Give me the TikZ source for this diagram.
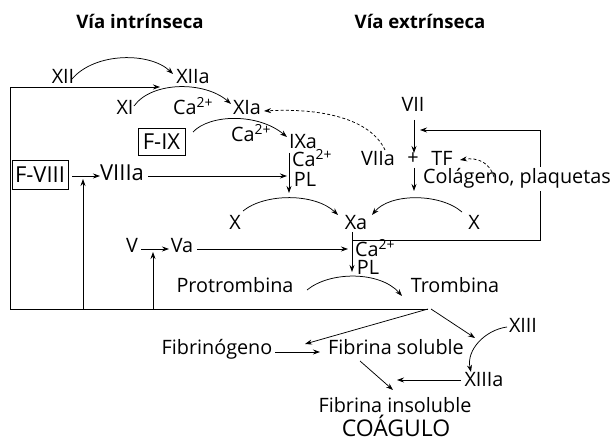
\documentclass[tikz,border=0pt]{standalone}
\usepackage{fontspec}
\setmainfont{Open Sans}
\usetikzlibrary{arrows.meta}
\newcommand\nfnt{\fontsize{19.8}{22}\selectfont}
\newcommand\bfnt{\fontsize{22}{25}\selectfont}
\newcommand\cfnt{\fontsize{23}{26}\selectfont}
\newcommand\tfnt{\fontsize{18.6}{21}\selectfont\bfseries}
\newcommand\supr[1]{\textsuperscript{#1}}
\begin{document}
\begin{tikzpicture}[x=1pt,y=-1pt,
  lbl/.style={inner sep=0pt, font=\nfnt, anchor=base},
  big/.style={inner sep=0pt, font=\bfnt, anchor=base},
  ttl/.style={inner sep=0pt, font=\tfnt, anchor=base},
  fbox/.style={draw, line width=0.8pt, inner sep=0pt, font=\bfnt, anchor=center},
  ln/.style={line width=0.75pt},
  arr/.style={ln, -{Stealth[length=7pt,width=5pt]}},
  darr/.style={arr, dash pattern=on 3pt off 2.2pt}]
\useasboundingbox (0,0) rectangle (614,443);

% titles
\node[ttl] (t1) at (140,29) {Vía intrínseca};
\node[ttl] (t2) at (420,29) {Vía extrínseca};

% intrinsic pathway
\node[lbl] (xii) at (63,84) {XII};
\node[lbl] (xiia) at (193,84) {XIIa};
\node[lbl] (xi) at (125,115) {XI};
\node[lbl] (ca1) at (193,115) {Ca\supr{2+}};
\node[lbl] (xia) at (247,115) {XIa};
\node[fbox, minimum width=47pt, minimum height=27pt] (fix) at (161.5,141.5) {F-IX};
\node[lbl] (ca2) at (251,142) {Ca\supr{2+}};
\node[lbl] (ixa) at (303,149) {IXa};
\node[lbl] (ca3) at (312,167) {Ca\supr{2+}};
\node[lbl] (pl1) at (305,187) {PL};
\node[fbox, minimum width=56pt, minimum height=29pt] (fviii) at (40,174.5) {F-VIII};
\node[big] (viiia) at (122,181) {VIIIa};

% extrinsic pathway
\node[lbl] (vii) at (413,112) {VII};
\node[lbl] (viia) at (378,166) {VIIa};
\node[lbl, anchor=center] (plus) at (413,159) {+};
\node[lbl] (tf) at (442,166) {TF};

% common pathway
\node[lbl] (xl) at (235,230) {X};
\node[lbl] (xa) at (356,230) {Xa};
\node[lbl] (xr) at (474,230) {X};
\node[lbl] (v) at (132,253) {V};
\node[lbl] (va) at (182,253) {Va};
\node[lbl] (ca4) at (375,257) {Ca\supr{2+}};
\node[lbl] (pl2) at (368,275) {PL};
\node[lbl] (protr) at (235,293) {Protrombina};
\node[lbl] (tromb) at (455,293) {Trombina};
\node[lbl] (fibg) at (217,355) {Fibrinógeno};
\node[lbl] (fibs) at (396,355) {Fibrina soluble};
\node[lbl] (xiii) at (523,333) {XIII};
\node[lbl] (xiiia) at (484,387) {XIIIa};
\node[lbl] (fibi) at (395,413) {Fibrina insoluble};
\node[inner sep=0pt, font=\cfnt, anchor=base] (coag) at (396,437) {COÁGULO};

% named coordinates
\coordinate (lb) at (10,309);
\coordinate (lt) at (10,87);
\coordinate (fbtip) at (160,87);
\coordinate (re) at (428,309);
\coordinate (rt) at (431,309);
\coordinate (b1) at (83,309);
\coordinate (b1t) at (83,179);
\coordinate (b2) at (153,309);
\coordinate (b2t) at (153,252);
\coordinate (rb) at (540,240);
\coordinate (rtop) at (540,130);
\coordinate (rtip) at (420,130);
\coordinate (xaj) at (352,240);
\coordinate (viiiae) at (148,176);
\coordinate (fviiie) at (72,176);

% feedback loops
\draw[arr] (lb) -- (lt) -- (fbtip);
\draw[ln] (lb) -- (re);
\draw[arr] (b1) -- (b1t);
\draw[arr] (b2) -- (b2t);
\draw[arr] (xaj) -- (rb) -- (rtop) -- (rtip);
\node[lbl, anchor=base west, inner sep=2pt, fill=white] (colag) at (421,184) {Colágeno, plaquetas};

% arcs
\draw[arr] (72,79) .. controls (95,52) and (150,52) .. (173,74);
\draw[arr] (134,106) .. controls (152,81) and (205,81) .. (231,104);
\draw[arr] (193,132) .. controls (210,114) and (258,113) .. (287,137);
\draw[arr] (243,211) .. controls (265,193) and (315,193) .. (338,215);
\draw[arr] (462,212) .. controls (440,193) and (390,193) .. (372,215);
\draw[arr] (307,290) .. controls (330,271) and (380,271) .. (402,296);
\draw[arr] (507,327) .. controls (485,330) and (466,350) .. (471,372);

% dashed
\draw[darr] (385,150) .. controls (370,118) and (320,108) .. (264,111);
\draw[darr] (494,177) .. controls (490,163) and (478,157) .. (460,160);

% straight arrows
\draw[arr] (289,153) -- (289,193);
\draw[arr] (viiiae) -- (287,176);
\draw[arr] (fviiie) -- (100,176);
\draw[arr] (414,120) -- (414,153);
\draw[arr] (414,168) -- (414,191);
\draw[arr] (352,232) -- (352,272);
\draw[arr] (197,249) -- (348,249);
\draw[arr] (141,249) -- (169,249);
\draw[arr] (re) -- (305,344);
\draw[arr] (rt) -- (475,338);
\draw[arr] (275,352) -- (320,352);
\draw[arr] (461,380) -- (397,380);
\draw[arr] (360,361) -- (393,390);
\end{tikzpicture}
\end{document}
